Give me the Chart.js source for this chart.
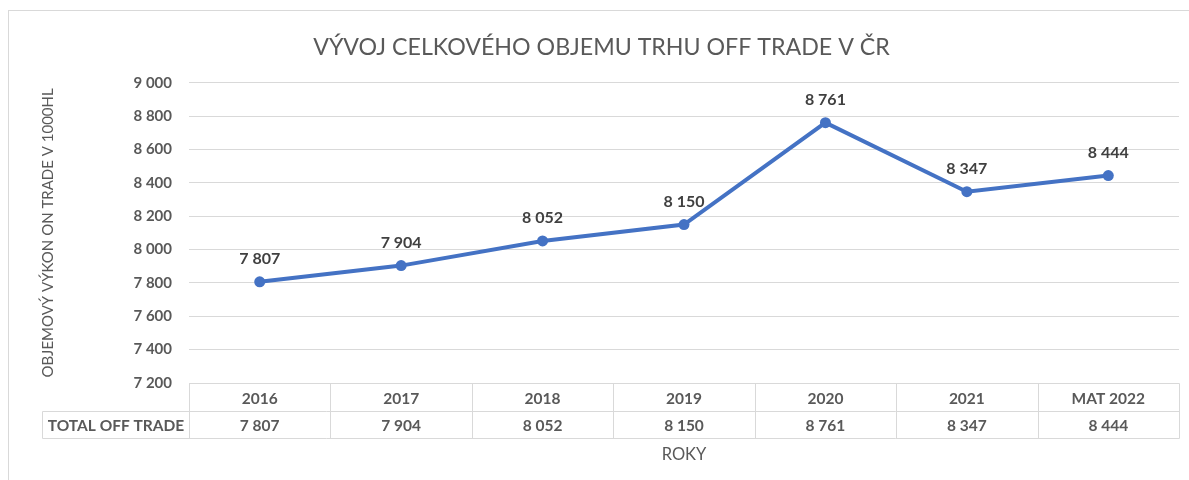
<!DOCTYPE html>
<html>
<head>
<meta charset="utf-8">
<script src="https://cdn.jsdelivr.net/npm/chart.js@4"></script>
<style>
  html, body { margin: 0; padding: 0; background: #fff; }
  #wrap { width: 1189px; height: 480px; }
</style>
</head>
<body>
<div id="wrap"><canvas id="lineChart" width="1189" height="480"></canvas></div>
<script>
// Datos del gráfico
const roky = ['2016', '2017', '2018', '2019', '2020', '2021', 'MAT 2022'];
const totalOffTrade = [7807, 7904, 8052, 8150, 8761, 8347, 8444];
const seriesName = 'TOTAL OFF TRADE';
const yTicks = { min: 7200, max: 9000, step: 200 };

const textGray = '#595959';
const gridGray = '#d9d9d9';
const lineBlue = '#4472C4';
const fontFamily = 'Lato, "Open Sans", sans-serif';

// Formato con espacio como separador de miles
function fmt(v) {
    return String(v).replace(/\B(?=(\d{3})+(?!\d))/g, ' ');
}

// Marco exterior del gráfico
const framePlugin = {
    id: 'frame',
    beforeDraw(chart) {
        const ctx = chart.ctx;
        ctx.save();
        ctx.strokeStyle = gridGray;
        ctx.lineWidth = 1;
        ctx.strokeRect(8.5, 10.5, chart.width + 20, chart.height + 20);
        ctx.restore();
    }
};

// Etiquetas de valores sobre los puntos
const valueLabels = {
    id: 'valueLabels',
    afterDatasetsDraw(chart) {
        const ctx = chart.ctx;
        const meta = chart.getDatasetMeta(0);
        ctx.save();
        ctx.font = 'bold 16px ' + fontFamily;
        ctx.fillStyle = '#404040';
        ctx.textAlign = 'center';
        ctx.textBaseline = 'middle';
        meta.data.forEach((pt, i) => {
            ctx.fillText(fmt(totalOffTrade[i]), pt.x, pt.y - 23);
        });
        ctx.restore();
    }
};

// Tabla de datos debajo del eje X
const dataTable = {
    id: 'dataTable',
    afterDraw(chart) {
        const ctx = chart.ctx;
        const xs = chart.scales.x;
        const area = chart.chartArea;
        const half = (xs.getPixelForValue(1) - xs.getPixelForValue(0)) / 2;
        const top = area.bottom + 0.5;
        const mid = top + 28;
        const bot = mid + 27;
        const tableLeft = 42.5;
        const left = Math.round(area.left) + 0.5;
        const right = Math.round(xs.getPixelForValue(roky.length - 1) + half) + 0.5;

        ctx.save();
        ctx.strokeStyle = gridGray;
        ctx.lineWidth = 1;
        ctx.beginPath();
        ctx.moveTo(left, top); ctx.lineTo(right, top);
        ctx.moveTo(tableLeft, mid); ctx.lineTo(right, mid);
        ctx.moveTo(tableLeft, bot); ctx.lineTo(right, bot);
        ctx.moveTo(tableLeft, mid); ctx.lineTo(tableLeft, bot);
        ctx.moveTo(left, top); ctx.lineTo(left, bot);
        roky.forEach((r, i) => {
            const x = Math.round(xs.getPixelForValue(i) + half) + 0.5;
            ctx.moveTo(x, top); ctx.lineTo(x, bot);
        });
        ctx.stroke();

        ctx.font = 'bold 15.5px ' + fontFamily;
        ctx.fillStyle = textGray;
        ctx.textAlign = 'center';
        ctx.textBaseline = 'middle';
        roky.forEach((r, i) => {
            const x = xs.getPixelForValue(i);
            ctx.fillText(r, x, (top + mid) / 2 + 1);
            ctx.fillText(fmt(totalOffTrade[i]), x, (mid + bot) / 2 + 1);
        });
        ctx.fillText(seriesName, (tableLeft + left) / 2, (mid + bot) / 2 + 1);
        ctx.restore();
    }
};

const ctx = document.getElementById('lineChart');
new Chart(ctx, {
    type: 'line',
    data: {
        labels: roky,
        datasets: [{
            label: seriesName,
            data: totalOffTrade,
            borderColor: lineBlue,
            backgroundColor: lineBlue,
            borderWidth: 4,
            pointRadius: 5.5,
            pointHoverRadius: 5.5,
            pointBackgroundColor: lineBlue,
            pointBorderWidth: 0,
            tension: 0,
            clip: false
        }]
    },
    options: {
        responsive: false,
        animation: false,
        layout: { padding: { left: 24, right: 10, top: 0, bottom: 0 } },
        scales: {
            x: {
                type: 'category',
                offset: true,
                grid: { display: false },
                border: { display: false },
                ticks: { display: false },
                title: {
                    display: true,
                    text: 'ROKY',
                    color: textGray,
                    font: { family: fontFamily, size: 16.5 },
                    padding: { top: 0, bottom: 15 }
                },
                afterFit(scale) { scale.height = 97; }
            },
            y: {
                min: yTicks.min,
                max: yTicks.max,
                grid: { color: gridGray, lineWidth: 1, drawTicks: false },
                border: { display: false },
                ticks: {
                    stepSize: yTicks.step,
                    padding: 17,
                    color: textGray,
                    font: { family: fontFamily, size: 15, weight: 'bold' },
                    callback: (v) => fmt(v)
                },
                title: {
                    display: true,
                    text: 'OBJEMOVÝ VÝKON ON TRADE V 1000HL',
                    color: textGray,
                    font: { family: fontFamily, size: 15 },
                    padding: { top: 15, bottom: 0 }
                },
                afterFit(scale) { scale.width = 165; }
            }
        },
        plugins: {
            legend: { display: false },
            tooltip: { enabled: false },
            title: {
                display: true,
                text: 'VÝVOJ CELKOVÉHO OBJEMU TRHU OFF TRADE V ČR',
                color: textGray,
                font: { family: fontFamily, size: 23.2, weight: 'normal' },
                padding: { top: 34, bottom: 21 }
            }
        }
    },
    plugins: [framePlugin, valueLabels, dataTable]
});
</script>
</body>
</html>
